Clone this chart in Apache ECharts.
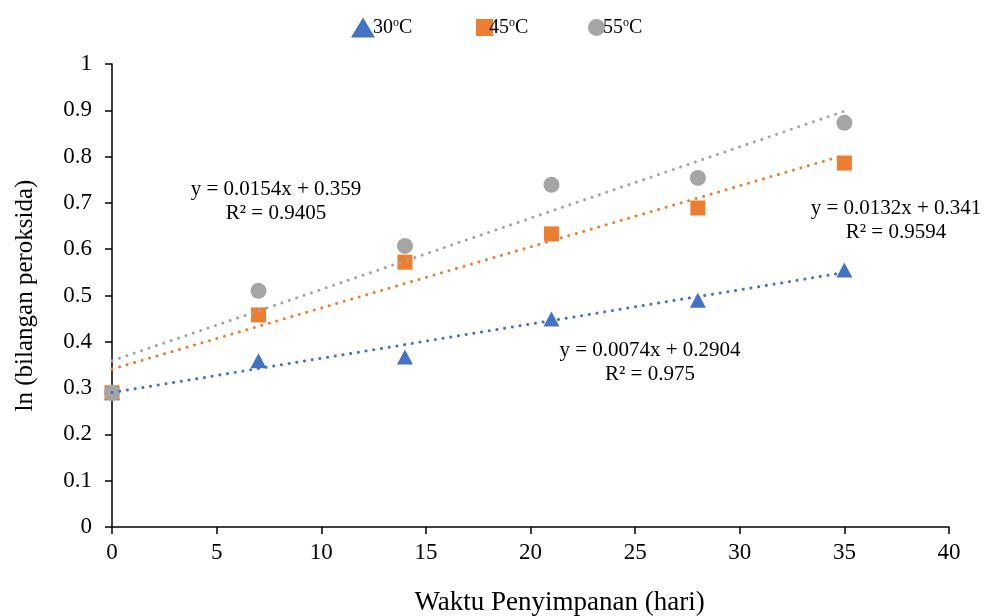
<!DOCTYPE html>
<html><head><meta charset="utf-8">
<script src="https://cdn.jsdelivr.net/npm/echarts@6/dist/echarts.min.js"></script>
<style>html,body{margin:0;padding:0;background:#fff}#c{width:984px;height:616px}</style>
</head><body><div id="c"></div>
<script>
const days = [0, 7, 14, 21, 28, 35];
const s30 = [0.29, 0.359, 0.367, 0.449, 0.490, 0.555];
const s45 = [0.29, 0.458, 0.572, 0.633, 0.689, 0.786];
const s55 = [0.29, 0.510, 0.607, 0.739, 0.754, 0.873];
const trendX = [0, 35];
const t30 = [0.2904, 0.5494];
const t45 = [0.341, 0.803];
const t55 = [0.359, 0.898];
const names = ['30{s|o}C', '45{s|o}C', '55{s|o}C'];
const eq = [
  ['y = 0.0074x + 0.2904', 'R² = 0.975'],
  ['y = 0.0132x + 0.341', 'R² = 0.9594'],
  ['y = 0.0154x + 0.359', 'R² = 0.9405']
];
const colors = ['#4472C4', '#ED7D31', '#A5A5A5'];
const font = 'Liberation Serif';
const pair = (xs, ys) => xs.map((x, i) => [x, ys[i]]);
const chart = echarts.init(document.getElementById('c'));
const trend = (d, c) => ({
  type: 'line', data: pair(trendX, d), symbol: 'none', silent: true, z: 5,
  lineStyle: { color: c, width: 3, type: [0.1, 7.7], cap: 'round' }
});
const legendText = (pad) => ({
  fontFamily: font, fontSize: 20, color: '#000', padding: [0, 0, 0, pad],
  rich: { s: { fontSize: 12, verticalAlign: 'top', padding: [0, 0, 9, 0], fontFamily: font, color: '#000' } }
});
const mkLegend = (i, left, w, h, pad) => ({
  top: 17, left: left, itemWidth: w, itemHeight: h, padding: 0,
  data: [{ name: names[i] }], formatter: n => n, textStyle: legendText(pad)
});
const ann = (e, x, y) => ({
  type: 'text', x: x, y: y, z: 10,
  style: { text: e[0] + '\n' + e[1], align: 'center', verticalAlign: 'top', font: '21px "Liberation Serif"', fill: '#000', lineHeight: 24 }
});
chart.setOption({
  animation: false,
  textStyle: { fontFamily: font },
  grid: { left: 112, right: 35, top: 64, bottom: 89, containLabel: false, outerBoundsMode: 'none' },
  legend: [
    mkLegend(0, 351, 24, 20, -7),
    mkLegend(1, 476, 17, 17, -9),
    mkLegend(2, 588, 17, 17, -7)
  ],
  xAxis: {
    type: 'value', min: 0, max: 40, interval: 5,
    name: 'Waktu Penyimpanan (hari)', nameLocation: 'middle', nameGap: 62,
    nameTextStyle: { fontFamily: font, fontSize: 27, color: '#000', padding: [0, 0, 0, 58] },
    axisLine: { show: true, lineStyle: { color: '#000', width: 1.5 } },
    axisTick: { show: true, inside: false, length: 7, lineStyle: { color: '#000', width: 1.5 } },
    axisLabel: { fontFamily: font, fontSize: 23, color: '#000', margin: 14 },
    splitLine: { show: false }
  },
  yAxis: {
    type: 'value', min: 0, max: 1, interval: 0.1,
    name: 'ln (bilangan peroksida)', nameLocation: 'middle', nameGap: 74,
    nameTextStyle: { fontFamily: font, fontSize: 25, color: '#000' },
    axisLine: { show: true, lineStyle: { color: '#000', width: 1.5 } },
    axisTick: { show: true, inside: false, length: 7, lineStyle: { color: '#000', width: 1.5 } },
    axisLabel: { fontFamily: font, fontSize: 23, color: '#000', margin: 20 },
    splitLine: { show: false }
  },
  series: [
    { name: names[0], type: 'scatter', data: pair(days, s30), symbol: 'triangle', symbolSize: [16, 15], itemStyle: { color: colors[0], opacity: 1 }, z: 2 },
    { name: names[1], type: 'scatter', data: pair(days, s45), symbol: 'rect', symbolSize: 15, itemStyle: { color: colors[1], opacity: 1 }, z: 3 },
    { name: names[2], type: 'scatter', data: pair(days, s55), symbol: 'circle', symbolSize: 16, itemStyle: { color: colors[2], opacity: 1 }, z: 4 },
    trend(t30, colors[0]), trend(t45, colors[1]), trend(t55, colors[2])
  ],
  graphic: [ann(eq[2], 276, 177), ann(eq[1], 896, 196), ann(eq[0], 650, 338)]
});
</script></body></html>
